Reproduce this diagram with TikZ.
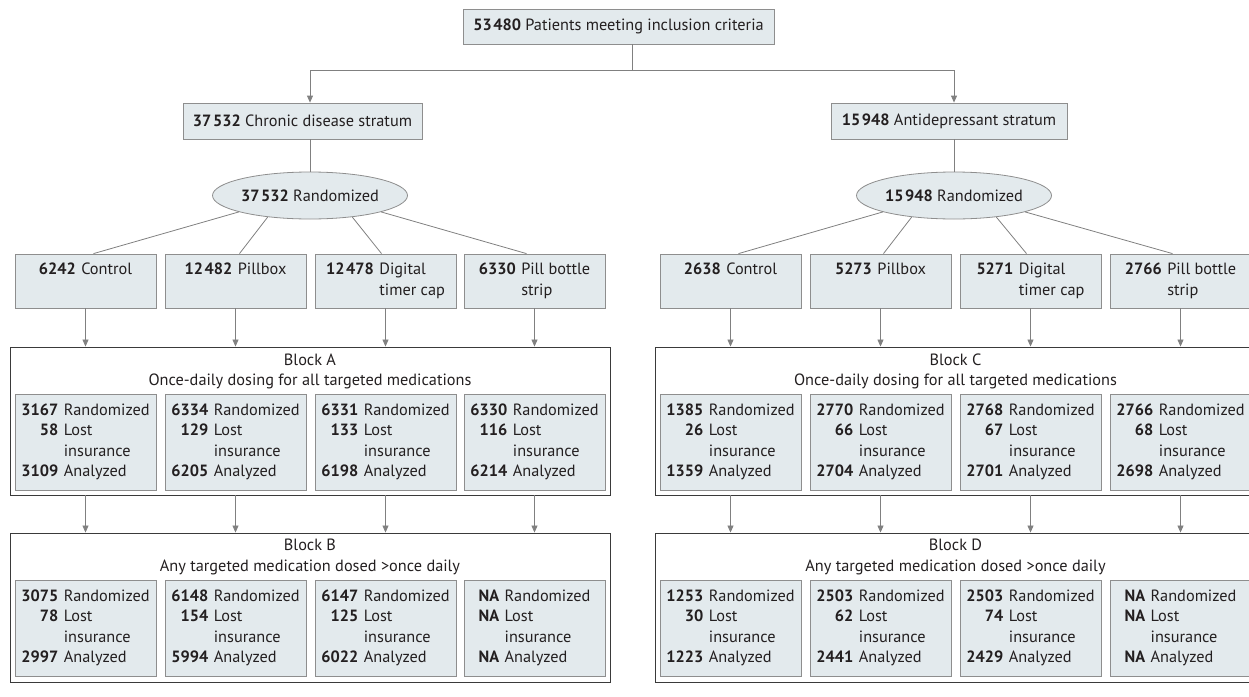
\documentclass[tikz,border=0pt]{standalone}
\usepackage{fontspec}
\setmainfont{PT Sans}
\usetikzlibrary{arrows.meta,shapes.geometric}
\definecolor{boxfill}{HTML}{E3EAED}
\definecolor{boxline}{HTML}{8E8E8E}
\definecolor{connline}{HTML}{808080}
\definecolor{blockline}{HTML}{3A3A3A}
\definecolor{txt}{HTML}{231F20}
\newcommand{\ths}{\kern1.6pt}
\newcommand{\armtab}[3]{\begin{tabular}{@{}r@{\hspace{5.5pt}}l@{}}\textbf{#1}&#2\\&#3\end{tabular}}
\newcommand{\celltab}[3]{\begin{tabular}{@{}r@{\hspace{5.5pt}}l@{}}\textbf{#1}&Randomized\\\textbf{#2}&Lost\\&insurance\\\textbf{#3}&Analyzed\end{tabular}}
\begin{document}
\begin{tikzpicture}[x=1pt,y=-1pt,
  every node/.style={font=\fontsize{16.3}{20.5}\selectfont, text=txt},
  fbox/.style={draw=boxline, fill=boxfill, line width=0.8pt, inner sep=0pt, align=center},
  armbox/.style={fbox, minimum width=141pt, minimum height=54pt},
  cellbox/.style={fbox, minimum width=141pt, minimum height=96pt},
  blockbox/.style={draw=blockline, line width=0.9pt, minimum width=600pt, minimum height=148pt, inner sep=0pt},
  blocktitle/.style={align=center, inner sep=0pt},
  ell/.style={ellipse, draw=boxline, fill=boxfill, line width=0.8pt, inner sep=0pt, minimum width=171pt, minimum height=47pt},
  conn/.style={draw=connline, line width=0.8pt},
  arr/.style={conn, -{Triangle[length=7pt,width=6pt]}}
]
\useasboundingbox (0,0) rectangle (1249,696);

% top
\node[fbox, minimum width=311pt, minimum height=35pt] (top) at (618.5,26.5) {\textbf{53\ths480} Patients meeting inclusion criteria};
\node[fbox, minimum width=239pt, minimum height=36pt] (s1) at (302.5,121) {\textbf{37\ths532} Chronic disease stratum};
\node[fbox, minimum width=236pt, minimum height=36pt] (s2) at (949,121) {\textbf{15\ths948} Antidepressant stratum};
\node[ell] (e1) at (310,195.5) {\textbf{37\ths532} Randomized};
\node[ell] (e2) at (954,195.5) {\textbf{15\ths948} Randomized};

\coordinate (j) at (632,70);
\draw[conn] ([xshift=13.5pt]top.south) -- (j);
\draw[arr] (j) -| (e1.center |- s1.north);
\draw[arr] (j) -| (e2.center |- s2.north);
\draw[conn] (s1.south -| e1.center) -- (e1.north);
\draw[conn] (s2.south -| e2.center) -- (e2.north);

% arms
\node[armbox] (c1) at (85.5,281) {\armtab{6242}{Control}{}};
\node[armbox] (c2) at (235.5,281) {\armtab{12\ths482}{Pillbox}{}};
\node[armbox] (c3) at (385.5,281) {\armtab{12\ths478}{Digital}{timer cap}};
\node[armbox] (c4) at (534.5,281) {\armtab{6330}{Pill bottle}{strip}};
\node[armbox] (d1) at (730.5,281) {\armtab{2638}{Control}{}};
\node[armbox] (d2) at (880.5,281) {\armtab{5273}{Pillbox}{}};
\node[armbox] (d3) at (1030.5,281) {\armtab{5271}{Digital}{timer cap}};
\node[armbox] (d4) at (1180.5,281) {\armtab{2766}{Pill bottle}{strip}};

\draw[conn] (e1.193) -- ([xshift=8pt]c1.north);
\draw[conn] (e1.207) -- ([xshift=4pt]c2.north);
\draw[conn] (e1.333) -- ([xshift=-4pt]c3.north);
\draw[conn] (e1.347) -- ([xshift=-8pt]c4.north);
\draw[conn] (e2.193) -- ([xshift=8pt]d1.north);
\draw[conn] (e2.207) -- ([xshift=3pt]d2.north);
\draw[conn] (e2.333) -- ([xshift=-4pt]d3.north);
\draw[conn] (e2.347) -- ([xshift=-8pt]d4.north);

% blocks
\node[blockbox] (bA) at (310,421) {};
\node[blockbox, minimum height=149pt] (bB) at (310,607.5) {};
\node[blockbox, minimum width=601pt] (bC) at (955.5,421) {};
\node[blockbox, minimum width=601pt, minimum height=149pt] (bD) at (955.5,607.5) {};

\node[blocktitle] (tA) at (310,371.5) {Block A\\Once-daily dosing for all targeted medications};
\node[blocktitle] (tB) at (310,557) {Block B\\Any targeted medication dosed >once daily};
\node[blocktitle] (tC) at (955.5,371.5) {Block C\\Once-daily dosing for all targeted medications};
\node[blocktitle] (tD) at (955.5,557) {Block D\\Any targeted medication dosed >once daily};

\node[cellbox] (a1) at (85.5,442) {\celltab{3167}{58}{3109}};
\node[cellbox] (a2) at (235.5,442) {\celltab{6334}{129}{6205}};
\node[cellbox] (a3) at (385.5,442) {\celltab{6331}{133}{6198}};
\node[cellbox] (a4) at (534.5,442) {\celltab{6330}{116}{6214}};
\node[cellbox] (b1) at (85.5,628) {\celltab{3075}{78}{2997}};
\node[cellbox] (b2) at (235.5,628) {\celltab{6148}{154}{5994}};
\node[cellbox] (b3) at (385.5,628) {\celltab{6147}{125}{6022}};
\node[cellbox] (b4) at (534.5,628) {\celltab{NA}{NA}{NA}};
\node[cellbox] (g1) at (730.5,442) {\celltab{1385}{26}{1359}};
\node[cellbox] (g2) at (880.5,442) {\celltab{2770}{66}{2704}};
\node[cellbox] (g3) at (1030.5,442) {\celltab{2768}{67}{2701}};
\node[cellbox] (g4) at (1180.5,442) {\celltab{2766}{68}{2698}};
\node[cellbox] (h1) at (730.5,628) {\celltab{1253}{30}{1223}};
\node[cellbox] (h2) at (880.5,628) {\celltab{2503}{62}{2441}};
\node[cellbox] (h3) at (1030.5,628) {\celltab{2503}{74}{2429}};
\node[cellbox] (h4) at (1180.5,628) {\celltab{NA}{NA}{NA}};

% arrows arms -> blocks
\foreach \n/\b in {c1/bA,c2/bA,c3/bA,c4/bA,d1/bC,d2/bC,d3/bC,d4/bC}{
  \draw[arr] (\n.south) -- (\n.south |- \b.north);
}
\foreach \n/\a/\b in {c1/bA/bB,c2/bA/bB,c3/bA/bB,c4/bA/bB,d1/bC/bD,d2/bC/bD,d3/bC/bD,d4/bC/bD}{
  \draw[arr] (\n.south |- \a.south) -- (\n.south |- \b.north);
}
\end{tikzpicture}
\end{document}
